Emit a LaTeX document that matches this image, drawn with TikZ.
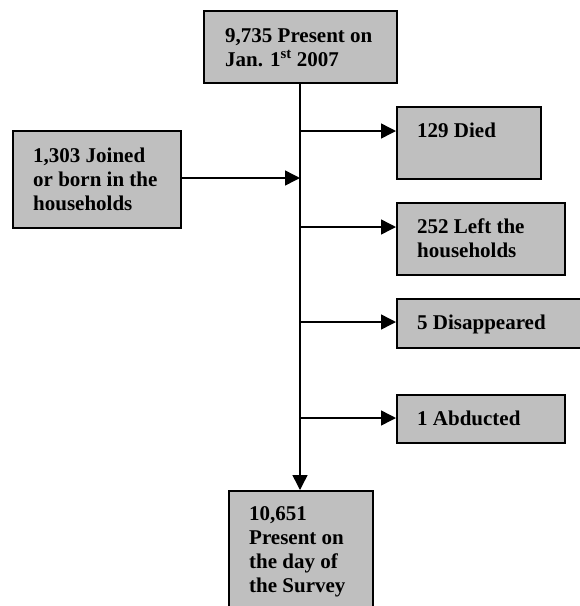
\documentclass[tikz,border=0pt]{standalone}
\usepackage{fontspec}
\setmainfont{Liberation Serif}
\usetikzlibrary{arrows.meta,calc}
\tikzset{
  graybox/.style={draw=black, line width=1.6pt, fill=black!25, rectangle, inner sep=0pt, anchor=north west},
  txt/.style={anchor=base west, inner sep=0pt, font=\fontsize{21}{24}\selectfont\bfseries},
  conn/.style={line width=1.5pt, -{Triangle[length=15pt,width=15pt]}},
}
\newcommand{\lines}[1]{\begin{tabular}[t]{@{}l@{}}#1\end{tabular}}
\begin{document}
\begin{tikzpicture}[x=1pt,y=-1pt]
\useasboundingbox (0,0) rectangle (580,606);
\clip (0,0) rectangle (580,606);
% boxes
\node[graybox, minimum width=193pt, minimum height=72pt] (top) at (203,10) {};
\node[graybox, minimum width=168pt, minimum height=97pt] (joined) at (12,130) {};
\node[graybox, minimum width=144pt, minimum height=72pt] (died) at (396,106) {};
\node[graybox, minimum width=168pt, minimum height=72pt] (left) at (396,202) {};
\node[graybox, minimum width=240pt, minimum height=49pt] (disap) at (396,298) {};
\node[graybox, minimum width=168pt, minimum height=48pt] (abd) at (396,394) {};
\node[graybox, minimum width=144pt, minimum height=140pt] (final) at (228,490) {};
% texts
\node[txt] (ttop) at ($(top.north west)+(22,32)$) {\lines{9,735 Present on\\Jan. 1\textsuperscript{st} 2007}};
\node[txt] (tjoined) at ($(joined.north west)+(21,32)$) {\lines{1,303 Joined\\or born in the\\households}};
\node[txt] (tdied) at ($(died.north west)+(21,31)$) {129 Died};
\node[txt] (tleft) at ($(left.north west)+(21,31)$) {\lines{252 Left the\\households}};
\node[txt] (tdisap) at ($(disap.north west)+(21,31)$) {5 Disappeared};
\node[txt] (tabd) at ($(abd.north west)+(21,31)$) {1 Abducted};
\node[txt] (tfinal) at ($(final.north west)+(21,30)$) {\lines{10,651\\Present on\\the day of\\the Survey}};
% junction points on the trunk
\coordinate (jdied) at (300,131);
\coordinate (jjoin) at (300,178);
\coordinate (jleft) at (300,227);
\coordinate (jdisap) at (300,322);
\coordinate (jabd) at (300,418);
% connectors
\draw[conn] (top.south -| jdied) -- (final.north -| jdied);
\draw[conn] (joined.east |- jjoin) -- (jjoin);
\draw[conn] (jdied) -- (died.west |- jdied);
\draw[conn] (jleft) -- (left.west |- jleft);
\draw[conn] (jdisap) -- (disap.west |- jdisap);
\draw[conn] (jabd) -- (abd.west |- jabd);
\end{tikzpicture}
\end{document}
